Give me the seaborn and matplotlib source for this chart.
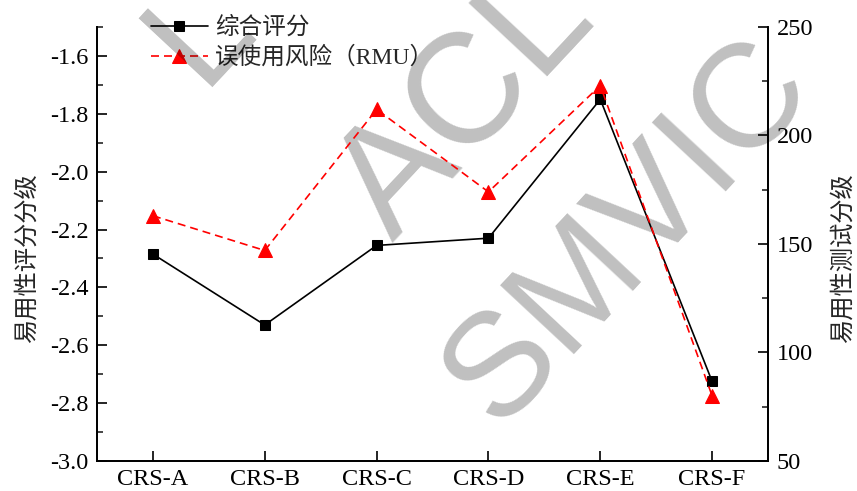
import matplotlib
matplotlib.use('Agg')
import matplotlib.pyplot as plt
import seaborn as sns
from matplotlib.ticker import MultipleLocator

# values
categories = ['CRS-A', 'CRS-B', 'CRS-C', 'CRS-D', 'CRS-E', 'CRS-F']
overall_score = [-2.285, -2.53, -2.255, -2.23, -1.75, -2.725]
rmu_score = [163, 147, 212, 174, 223, 80]

sns.set_style('ticks')
plt.rcParams['font.family'] = ['Liberation Serif', 'Noto Sans CJK SC']
plt.rcParams['axes.unicode_minus'] = False
plt.rcParams['font.size'] = 17.5

fig = plt.figure(figsize=(8.57, 4.91), dpi=100)
ax = fig.add_axes([0.1132, 0.0611, 0.7830, 0.884])
ax2 = ax.twinx()

sns.lineplot(x=categories, y=overall_score, ax=ax, sort=False, color='black',
             marker='s', markersize=7.5, markeredgecolor='black', linewidth=1.2,
             label='综合评分', legend=False, zorder=4)
sns.lineplot(x=categories, y=rmu_score, ax=ax2, sort=False, color='red',
             marker='^', markersize=9.5, markeredgecolor='red', linewidth=1.2,
             linestyle='--', label='误使用风险（RMU）', legend=False)
ax2.lines[0].set_dashes((4.8, 3))

ax.set_xlim(-0.5, 5.5)
ax.set_ylim(-3.0, -1.5)
ax2.set_ylim(50, 250)
ax.set_yticks([-3.0, -2.8, -2.6, -2.4, -2.2, -2.0, -1.8, -1.6])
ax.yaxis.set_minor_locator(MultipleLocator(0.1))
ax2.yaxis.set_major_locator(MultipleLocator(50))
ax2.yaxis.set_minor_locator(MultipleLocator(25))

for a in (ax, ax2):
    a.spines['top'].set_visible(False)
    for s in a.spines.values():
        s.set_linewidth(1.3)
        s.set_color('black')
ax.tick_params(axis='both', which='major', direction='in', length=7, width=1.2,
               labelsize=17.5, pad=6, colors='black')
ax.tick_params(axis='y', which='minor', direction='in', length=4, width=1.2)
ax2.tick_params(axis='y', which='major', direction='in', length=7, width=1.2,
                labelsize=17.5, pad=6, colors='black')
ax2.tick_params(axis='y', which='minor', direction='in', length=4, width=1.2)
ax.tick_params(axis='x', which='minor', bottom=False)

ax.set_xlabel('')
ax.set_ylabel('易用性评分分级', fontsize=17.5, labelpad=8, y=0.468)
ax2.set_ylabel('易用性测试分级', fontsize=17.5, labelpad=14, y=0.468)

h1, l1 = ax.get_legend_handles_labels()
h2, l2 = ax2.get_legend_handles_labels()
leg = ax.legend(h1 + h2, l1 + l2, loc='upper left', bbox_to_anchor=(0.157, 1.0),
                bbox_transform=fig.transFigure, frameon=False, fontsize=17,
                handlelength=2.4, handletextpad=0.3, borderpad=0.2, labelspacing=0.32)
leg.set_zorder(2)

# watermark, drawn over the legend but under the lines
wm = dict(color='black', alpha=0.25, ha='center', va='center', transform=fig.transFigure,
          family='Liberation Sans', rotation=47, rotation_mode='anchor', zorder=3,
          clip_on=False)
ax.text(0.734, 0.525, 'SMVIC', fontsize=106, **wm)
ax.text(0.543, 0.788, 'ACL', fontsize=112, **wm)
ax.text(0.2345, 0.937, 'L', fontsize=106, **wm)

fig.savefig('out.png', dpi=100)
